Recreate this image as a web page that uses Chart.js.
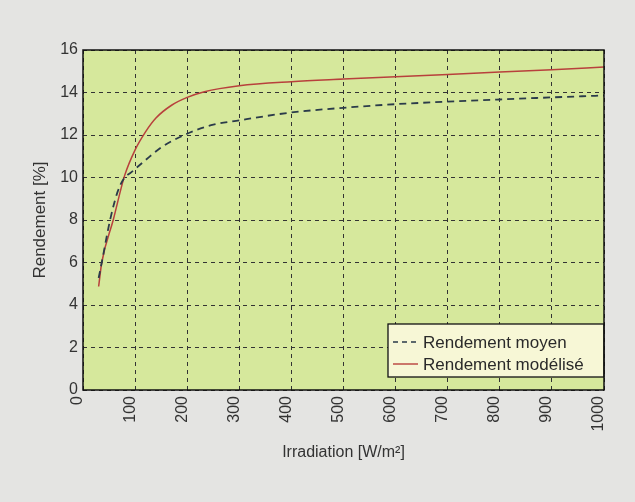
<!DOCTYPE html>
<html>
<head>
<meta charset="utf-8">
<script src="https://cdn.jsdelivr.net/npm/chart.js@4/dist/chart.umd.min.js"></script>
<style>
html,body{margin:0;padding:0;background:#e4e4e2;}
#wrap{width:635px;height:502px;position:relative;}
</style>
</head>
<body>
<div id="wrap"><canvas id="c" width="635" height="502"></canvas></div>
<script>
// Data
const irrMoyen = [30, 36, 52, 66, 78, 93, 119, 151, 200, 246, 300, 400, 500, 600, 700, 800, 900, 1000];
const rendMoyen = [5.27, 6.0, 8.0, 9.3, 9.93, 10.25, 10.8, 11.43, 12.06, 12.46, 12.69, 13.06, 13.28, 13.45, 13.57, 13.67, 13.77, 13.86];
const irrModel = [30, 36, 58, 80, 100, 120, 140, 170, 200, 233, 300, 400, 500, 600, 700, 800, 900, 1000];
const rendModel = [4.87, 6.0, 8.0, 10.1, 11.3, 12.15, 12.8, 13.4, 13.77, 14.04, 14.32, 14.51, 14.63, 14.74, 14.85, 14.96, 15.07, 15.2];
const xTicks = [0, 100, 200, 300, 400, 500, 600, 700, 800, 900, 1000];
const yTicks = [0, 2, 4, 6, 8, 10, 12, 14, 16];
const seriesLabels = ['Rendement moyen', 'Rendement modélisé'];

const toPts = (xs, ys) => xs.map((x, i) => ({x: x, y: ys[i]}));

const FONT = '"Liberation Sans", Arial, Helvetica, sans-serif';

const framePlugin = {
  id: 'frame',
  beforeDraw(chart) {
    const {ctx, chartArea: a} = chart;
    ctx.save();
    ctx.fillStyle = '#d6e89c';
    ctx.fillRect(a.left, a.top, a.right - a.left, a.bottom - a.top);
    ctx.restore();
  },
  afterDatasetsDraw(chart) {
    const {ctx, chartArea: a} = chart;
    // legend box
    const bx = 388, by = 324, bw = a.right - 388, bh = 53;
    ctx.save();
    ctx.fillStyle = '#f7f7d6';
    ctx.fillRect(bx, by, bw, bh);
    ctx.strokeStyle = '#111';
    ctx.lineWidth = 1.3;
    ctx.strokeRect(bx, by, bw, bh);
    ctx.font = '17px ' + FONT;
    ctx.fillStyle = '#2a2a2a';
    ctx.textBaseline = 'middle';
    chart.data.datasets.forEach((ds, i) => {
      const yy = by + 18 + i * 22;
      ctx.beginPath();
      ctx.strokeStyle = ds.borderColor;
      ctx.lineWidth = 1.4;
      ctx.setLineDash(i === 0 ? [5, 4] : []);
      ctx.moveTo(bx + 5, yy);
      ctx.lineTo(bx + 30, yy);
      ctx.stroke();
      ctx.setLineDash([]);
      ctx.fillText(ds.label, bx + 35, yy + 1);
    });
    ctx.restore();
  },
  afterDraw(chart) {
    const {ctx, chartArea: a} = chart;
    ctx.save();
    ctx.strokeStyle = '#111';
    ctx.lineWidth = 1.5;
    ctx.setLineDash([]);
    ctx.strokeRect(a.left, a.top, a.right - a.left, a.bottom - a.top);
    ctx.restore();
  }
};

new Chart(document.getElementById('c'), {
  type: 'line',
  data: {
    datasets: [
      {
        label: seriesLabels[0],
        data: toPts(irrMoyen, rendMoyen),
        borderColor: '#2b3b4a',
        borderWidth: 1.8,
        borderDash: [7, 5],
        pointRadius: 0,
        cubicInterpolationMode: 'monotone',
        fill: false
      },
      {
        label: seriesLabels[1],
        data: toPts(irrModel, rendModel),
        borderColor: '#b8403c',
        borderWidth: 1.5,
        pointRadius: 0,
        cubicInterpolationMode: 'monotone',
        fill: false
      }
    ]
  },
  plugins: [framePlugin],
  options: {
    responsive: false,
    animation: false,
    layout: {padding: {left: 26, right: 31, top: 50, bottom: 36}},
    plugins: {legend: {display: false}, tooltip: {enabled: false}},
    scales: {
      x: {
        type: 'linear',
        min: 0, max: 1000,
        afterBuildTicks: (s) => { s.ticks = xTicks.map(v => ({value: v})); },
        afterFit: (s) => { s.height = 76; },
        ticks: {
          minRotation: 90, maxRotation: 90,
          autoSkip: false,
          padding: 6,
          labelOffset: -5,
          color: '#333',
          font: {family: FONT, size: 16},
          callback: (v) => String(v)
        },
        grid: {color: '#333', lineWidth: 1, drawTicks: false},
        border: {display: false, dash: [4, 4]},
        title: {display: true, text: 'Irradiation [W/m²]', color: '#333', padding: {top: 4, bottom: 4}, font: {family: FONT, size: 16}}
      },
      y: {
        min: 0, max: 16,
        afterBuildTicks: (s) => { s.ticks = yTicks.map(v => ({value: v})); },
        afterFit: (s) => { s.width = 57; },
        ticks: {
          padding: 5,
          color: '#333',
          font: {family: FONT, size: 16}
        },
        grid: {color: '#333', lineWidth: 1, drawTicks: false},
        border: {display: false, dash: [4, 4]},
        title: {display: true, text: 'Rendement [%]', color: '#333', padding: {top: 4, bottom: 4}, font: {family: FONT, size: 17}}
      }
    }
  }
});
</script>
</body>
</html>
